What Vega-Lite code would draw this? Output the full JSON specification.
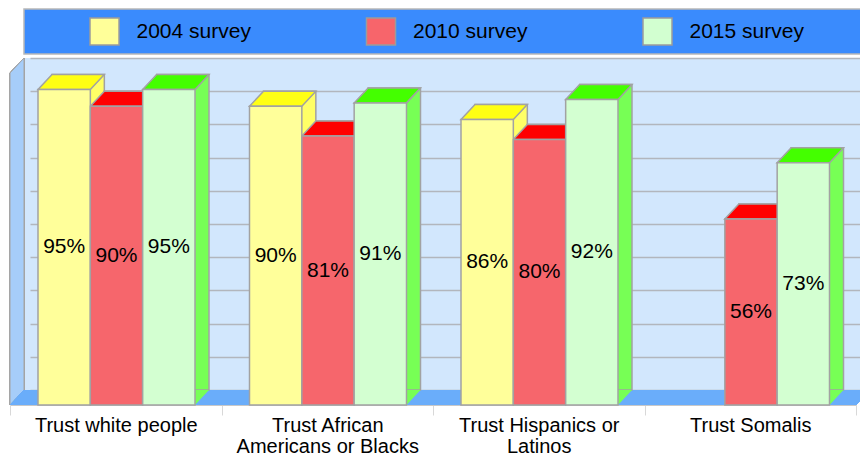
{
  "$schema": "https://vega.github.io/schema/vega-lite/v6.json",
  "padding": {"left": 8, "top": 8, "right": 0, "bottom": 0},
  "spacing": 1,
  "config": {"font": "Liberation Sans", "background": "#ffffff"},
  "datasets": {
    "surveys": [
      {"survey": "2004 survey"},
      {"survey": "2010 survey"},
      {"survey": "2015 survey"}
    ],
    "trust": [
      {"group": "Trust white people", "survey": "2004 survey", "value": 0.95},
      {"group": "Trust white people", "survey": "2010 survey", "value": 0.90},
      {"group": "Trust white people", "survey": "2015 survey", "value": 0.95},
      {"group": "Trust African Americans or Blacks", "survey": "2004 survey", "value": 0.90},
      {"group": "Trust African Americans or Blacks", "survey": "2010 survey", "value": 0.81},
      {"group": "Trust African Americans or Blacks", "survey": "2015 survey", "value": 0.91},
      {"group": "Trust Hispanics or Latinos", "survey": "2004 survey", "value": 0.86},
      {"group": "Trust Hispanics or Latinos", "survey": "2010 survey", "value": 0.80},
      {"group": "Trust Hispanics or Latinos", "survey": "2015 survey", "value": 0.92},
      {"group": "Trust Somalis", "survey": "2010 survey", "value": 0.56},
      {"group": "Trust Somalis", "survey": "2015 survey", "value": 0.73}
    ]
  },
  "vconcat": [
    {
      "width": 838,
      "height": 45,
      "view": {"fill": "#3a8bfd", "stroke": "#b8b8b8", "strokeWidth": 1.5},
      "data": {"name": "surveys"},
      "layer": [
        {
          "mark": {"type": "point", "filled": true, "opacity": 1, "shape": "M -1 -0.93 L 1 -0.93 L 1 0.93 L -1 0.93 Z", "size": 841, "stroke": "#9c9c9c", "strokeWidth": 1.5},
          "encoding": {
            "x": {"field": "survey", "type": "nominal", "sort": null, "scale": {"type": "point", "padding": 0.5154, "align": 0.2825}, "axis": null},
            "y": {"datum": 0.5, "type": "quantitative", "scale": {"domain": [0, 1]}, "axis": null},
            "color": {"field": "survey", "type": "nominal", "scale": {"domain": ["2004 survey", "2010 survey", "2015 survey"], "range": ["#ffff99", "#f7656b", "#d2ffd0"]}, "legend": null}
          }
        },
        {
          "mark": {"type": "text", "align": "left", "baseline": "middle", "dx": 32, "fontSize": 21, "color": "#000000"},
          "encoding": {
            "x": {"field": "survey", "type": "nominal", "sort": null},
            "y": {"datum": 0.5, "type": "quantitative"},
            "text": {"field": "survey"}
          }
        }
      ]
    },
    {
      "width": 838,
      "height": 332,
      "view": {"fill": "#d2e7fd", "stroke": null},
      "data": {"name": "trust"},
      "resolve": {"scale": {"y": "independent", "xOffset": "independent", "color": "independent"}},
      "layer": [
        {
          "mark": {"type": "point", "filled": true, "opacity": 1, "color": "#a6cdf9", "stroke": "#a4a4a4", "strokeWidth": 1,
                   "shape": "M 0 0 L 0 -0.95677 L 0.040346 -1 L 0.040346 -0.043228 Z", "size": 481636},
          "encoding": {
            "x": {"datum": "Trust white people", "type": "nominal", "bandPosition": 0,
                  "scale": {"type": "band", "domain": ["Trust white people", "Trust African Americans or Blacks", "Trust Hispanics or Latinos", "Trust Somalis"], "range": [-14, 832], "paddingInner": 0, "paddingOuter": 0},
                  "axis": {"title": null, "offset": 15, "tickBand": "extent", "tickSize": 10, "tickColor": "#d8d8d8", "domainColor": "#c8c8c8", "labelAngle": 0, "labelFontSize": 20, "labelColor": "#000000", "labelPadding": 0, "labelLineHeight": 21, "labelLimit": 400,
                           "labelExpr": "datum.label == 'Trust African Americans or Blacks' ? ['Trust African', 'Americans or Blacks'] : datum.label == 'Trust Hispanics or Latinos' ? ['Trust Hispanics or', 'Latinos'] : datum.label"}},
            "y": {"datum": 0, "type": "quantitative", "scale": {"domain": [0, 1], "range": [347, 15]}, "axis": null}
          }
        },
        {
          "mark": {"type": "point", "filled": true, "opacity": 1, "color": "#6aadfa", "strokeWidth": 0,
                   "shape": "M 0 0 L 0.032558 -0.034884 L 2 -0.034884 L 1.967442 0 Z", "size": 739600},
          "encoding": {
            "x": {"datum": "Trust white people", "type": "nominal", "bandPosition": 0},
            "y": {"datum": 0, "type": "quantitative", "scale": {"domain": [0, 1], "range": [347, 15]}, "axis": null}
          }
        },
        {
          "mark": {"type": "bar", "stroke": "#a2a2a2", "strokeWidth": 1.5, "opacity": 1},
          "encoding": {
            "x": {"field": "group", "type": "nominal"},
            "xOffset": {"field": "survey", "type": "nominal", "scale": {"type": "band", "domain": ["2004 survey", "2010 survey", "2015 survey"], "range": [42, 199], "paddingInner": 0, "paddingOuter": 0}},
            "y": {"field": "value", "type": "quantitative", "scale": {"domain": [0, 1], "range": [332, 0]},
                  "axis": {"orient": "right", "values": [0, 0.1, 0.2, 0.3, 0.4, 0.5, 0.6, 0.7, 0.8, 0.9, 1], "labels": false, "ticks": false, "domain": false, "grid": true, "gridColor": "#b2b6bd", "gridWidth": 1.5, "gridOpacity": 1, "title": null, "minExtent": 0}},
            "color": {"field": "survey", "type": "nominal", "scale": {"domain": ["2004 survey", "2010 survey", "2015 survey"], "range": ["#ffff66", "#ff5555", "#77ff55"]}, "legend": null}
          }
        },
        {
          "mark": {"type": "point", "filled": true, "opacity": 1, "strokeWidth": 0,
                   "shape": "M 0.654 0 L 1.004 -0.375 L 0.654 -0.375 Z", "size": 6400},
          "encoding": {
            "x": {"field": "group", "type": "nominal"},
            "xOffset": {"field": "survey", "type": "nominal", "scale": {"type": "point", "domain": ["2004 survey", "2010 survey", "2015 survey"], "range": [54.17, 158.83], "padding": 0}},
            "y": {"datum": 0, "type": "quantitative", "scale": {"domain": [0, 1], "range": [347, 15]}, "axis": null},
            "color": {"field": "survey", "type": "nominal", "scale": {"domain": ["2004 survey", "2010 survey", "2015 survey"], "range": ["#ffff66", "#ff5555", "#77ff55"]}, "legend": null}
          }
        },
        {
          "mark": {"type": "point", "filled": true, "opacity": 1, "stroke": "#a2a2a2", "strokeWidth": 1.5,
                   "shape": "M -0.654 0 L 0.654 0 L 1.004 -0.375 L -0.304 -0.375 Z", "size": 6400},
          "encoding": {
            "x": {"field": "group", "type": "nominal"},
            "xOffset": {"field": "survey", "type": "nominal", "scale": {"type": "point", "domain": ["2004 survey", "2010 survey", "2015 survey"], "range": [54.17, 158.83], "padding": 0}},
            "y": {"field": "value", "type": "quantitative", "scale": {"domain": [0, 1], "range": [347, 15]}, "axis": null},
            "color": {"field": "survey", "type": "nominal", "scale": {"domain": ["2004 survey", "2010 survey", "2015 survey"], "range": ["#ffff14", "#ff0000", "#44ff00"]}, "legend": null}
          }
        },
        {
          "mark": {"type": "bar", "stroke": "#a2a2a2", "strokeWidth": 1.5, "opacity": 1},
          "encoding": {
            "x": {"field": "group", "type": "nominal"},
            "xOffset": {"field": "survey", "type": "nominal", "scale": {"type": "band", "domain": ["2004 survey", "2010 survey", "2015 survey"], "range": [28, 185], "paddingInner": 0, "paddingOuter": 0}},
            "y": {"field": "value", "type": "quantitative", "scale": {"domain": [0, 1], "range": [347, 15]}, "axis": null},
            "color": {"field": "survey", "type": "nominal", "scale": {"domain": ["2004 survey", "2010 survey", "2015 survey"], "range": ["#ffff9a", "#f6666c", "#d3ffd1"]}, "legend": null}
          }
        },
        {
          "mark": {"type": "text", "baseline": "middle", "align": "center", "fontSize": 21, "color": "#000000"},
          "encoding": {
            "x": {"field": "group", "type": "nominal"},
            "xOffset": {"field": "survey", "type": "nominal", "scale": {"type": "point", "domain": ["2004 survey", "2010 survey", "2015 survey"], "range": [54.17, 158.83], "padding": 0}},
            "y": {"field": "value", "type": "quantitative", "scale": {"domain": [0, 2], "range": [347, 15]}, "axis": null},
            "text": {"field": "value", "type": "quantitative", "format": ".0%"}
          }
        }
      ]
    }
  ]
}
